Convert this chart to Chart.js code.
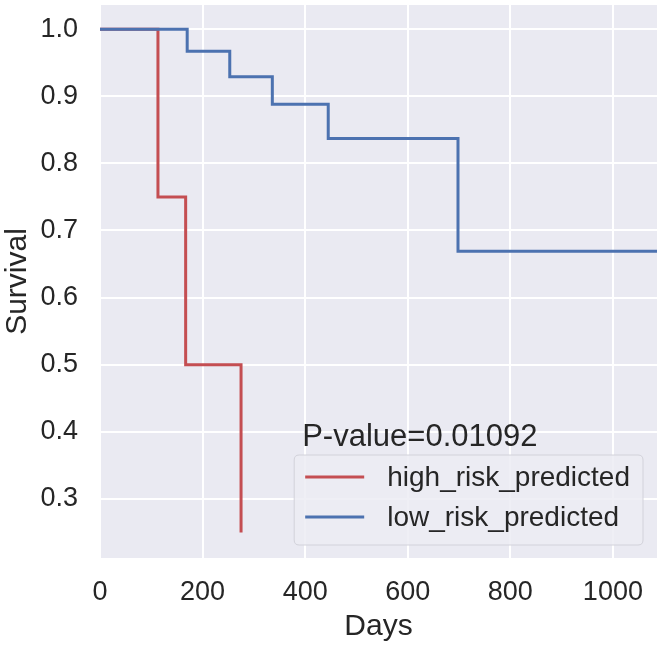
<!DOCTYPE html>
<html>
<head>
<meta charset="utf-8">
<script src="https://cdn.jsdelivr.net/npm/chart.js@4.4.1/dist/chart.umd.min.js"></script>
<style>
  html, body { margin: 0; padding: 0; background: #ffffff; }
  #wrap { width: 663px; height: 649px; }
</style>
</head>
<body>
<div id="wrap"><canvas id="c" width="663" height="649"></canvas></div>
<script>
// ---- data ----
const highRiskDays = [0, 113, 167, 275];
const highRiskSurv = [1.0, 0.75, 0.5, 0.25];
const lowRiskDays = [0, 170, 253, 336, 445, 698, 1100];
const lowRiskSurv = [1.0, 0.967, 0.929, 0.888, 0.837, 0.669, 0.669];
const seriesNames = ["high_risk_predicted", "low_risk_predicted"];
const xTickValues = [0, 200, 400, 600, 800, 1000];
const yTickValues = [0.3, 0.4, 0.5, 0.6, 0.7, 0.8, 0.9, 1.0];
const pValueText = "P-value=0.01092";

const FONT = "'Liberation Sans', Arial, sans-serif";
const TEXT = "#262626";

function toPoints(xs, ys) { return xs.map((x, i) => ({ x: x, y: ys[i] })); }

const bgPlugin = {
  id: 'plotBg',
  beforeDraw(chart) {
    const { ctx, chartArea: a } = chart;
    ctx.save();
    ctx.fillStyle = '#EAEAF2';
    ctx.fillRect(a.left, a.top, a.right - a.left, a.bottom - a.top);
    ctx.restore();
  }
};

const legendPlugin = {
  id: 'kmLegend',
  afterDatasetsDraw(chart) {
    const { ctx, chartArea: a } = chart;
    const ds = chart.data.datasets;
    ctx.save();
    ctx.font = "28px " + FONT;
    let maxW = 0;
    ds.forEach(d => { maxW = Math.max(maxW, ctx.measureText(d.label).width); });
    const padL = 11, lineLen = 59, gap = 23, padR = 13;
    const boxW = padL + lineLen + gap + maxW + padR;
    const boxH = 90;
    const right = a.right - 14, bottom = a.bottom - 13;
    const left = right - boxW, top = bottom - boxH;
    const r = 5;
    ctx.beginPath();
    ctx.moveTo(left + r, top);
    ctx.lineTo(right - r, top);
    ctx.quadraticCurveTo(right, top, right, top + r);
    ctx.lineTo(right, bottom - r);
    ctx.quadraticCurveTo(right, bottom, right - r, bottom);
    ctx.lineTo(left + r, bottom);
    ctx.quadraticCurveTo(left, bottom, left, bottom - r);
    ctx.lineTo(left, top + r);
    ctx.quadraticCurveTo(left, top, left + r, top);
    ctx.closePath();
    ctx.fillStyle = 'rgba(236,236,243,0.85)';
    ctx.fill();
    ctx.strokeStyle = '#D2D2DA';
    ctx.lineWidth = 1;
    ctx.stroke();
    // title
    ctx.fillStyle = TEXT;
    ctx.textBaseline = 'middle';
    ctx.textAlign = 'left';
    ctx.font = "31px " + FONT;
    ctx.fillText(pValueText, left + 8, top - 18);
    // entries
    ctx.font = "28px " + FONT;
    ds.forEach((d, i) => {
      const cy = top + 22 + i * 40;
      ctx.strokeStyle = d.borderColor;
      ctx.lineWidth = 3;
      ctx.beginPath();
      ctx.moveTo(left + padL, cy);
      ctx.lineTo(left + padL + lineLen, cy);
      ctx.stroke();
      ctx.fillStyle = TEXT;
      ctx.fillText(d.label, left + padL + lineLen + gap, cy + 1);
    });
    ctx.restore();
  }
};

new Chart(document.getElementById('c'), {
  type: 'line',
  data: {
    datasets: [
      {
        label: seriesNames[0],
        data: toPoints(highRiskDays, highRiskSurv),
        borderColor: '#C44E52',
        borderWidth: 3,
        stepped: 'before',
        pointRadius: 0,
        fill: false,
        order: 2
      },
      {
        label: seriesNames[1],
        data: toPoints(lowRiskDays, lowRiskSurv),
        borderColor: '#4C72B0',
        borderWidth: 3,
        stepped: 'before',
        pointRadius: 0,
        fill: false,
        order: 1
      }
    ]
  },
  options: {
    responsive: false,
    animation: false,
    devicePixelRatio: 1,
    layout: { autoPadding: false, padding: { top: 5, right: 6, left: 0, bottom: 0 } },
    plugins: {
      legend: { display: false },
      tooltip: { enabled: false }
    },
    scales: {
      x: {
        type: 'linear',
        min: 0,
        max: 1086,
        afterBuildTicks(scale) { scale.ticks = xTickValues.map(v => ({ value: v })); },
        afterFit(scale) {
          scale.height = 91;
          scale.paddingLeft = 0; scale.paddingRight = 0;
          scale.paddingTop = 0; scale.paddingBottom = 0;
        },
        border: { display: false },
        grid: { color: '#FFFFFF', lineWidth: 2, drawTicks: false },
        ticks: {
          color: TEXT,
          font: { family: FONT, size: 27 },
          padding: 18,
          maxRotation: 0,
          callback: v => String(v)
        },
        title: {
          display: true,
          text: 'Days',
          color: TEXT,
          font: { family: FONT, size: 30 },
          padding: { top: 0, bottom: 4 }
        }
      },
      y: {
        type: 'linear',
        min: 0.212,
        max: 1.036,
        afterBuildTicks(scale) { scale.ticks = yTickValues.map(v => ({ value: v })); },
        afterFit(scale) {
          scale.width = 100;
          scale.paddingLeft = 0; scale.paddingRight = 0;
          scale.paddingTop = 0; scale.paddingBottom = 0;
        },
        border: { display: false },
        grid: { color: '#FFFFFF', lineWidth: 2, drawTicks: false },
        ticks: {
          color: TEXT,
          font: { family: FONT, size: 27 },
          padding: 22,
          callback: v => Number(v).toFixed(1)
        },
        title: {
          display: true,
          text: 'Survival',
          color: TEXT,
          font: { family: FONT, size: 30 },
          padding: { top: 0, bottom: 0 }
        }
      }
    }
  },
  plugins: [bgPlugin, legendPlugin]
});
</script>
</body>
</html>
